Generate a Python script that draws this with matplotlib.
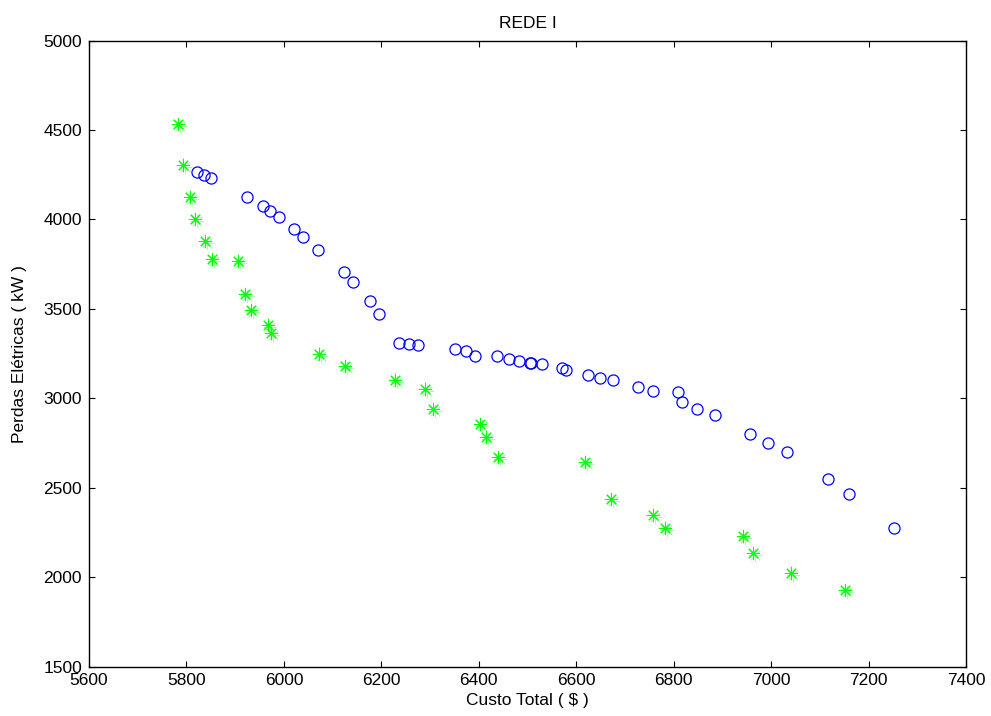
import matplotlib
matplotlib.use("Agg")
import matplotlib.pyplot as plt
from matplotlib.transforms import offset_copy

# =========================
# DATA
# =========================
custo_rede = [
    5821, 5836, 5851, 5924, 5957, 5972, 5990, 6020, 6039, 6071,
    6123, 6141, 6176, 6195, 6237, 6256, 6275, 6352, 6374, 6392,
    6437, 6461, 6483, 6506, 6508, 6530, 6571, 6578, 6625, 6649,
    6675, 6727, 6757, 6808, 6818, 6847, 6884, 6957, 6993, 7032,
    7116, 7159, 7252
]
perdas_rede = [
    4265, 4248, 4233, 4128, 4076, 4047, 4016, 3944, 3904, 3830,
    3704, 3651, 3546, 3473, 3307, 3301, 3300, 3273, 3264, 3234,
    3235, 3220, 3210, 3197, 3195, 3190, 3167, 3160, 3130, 3115,
    3100, 3063, 3041, 3034, 2980, 2942, 2906, 2801, 2749, 2697,
    2549, 2465, 2272
]

custo_pareto = [
    5782, 5793, 5808, 5817, 5838, 5853, 5906, 5921, 5933, 5968,
    5974, 6072, 6126, 6228, 6290, 6307, 6403, 6415, 6440, 6618,
    6672, 6757, 6782, 6942, 6962, 7041, 7151
]
perdas_pareto = [
    4535, 4306, 4127, 4002, 3880, 3781, 3767, 3582, 3494, 3411,
    3367, 3246, 3180, 3103, 3052, 2941, 2854, 2784, 2672, 2641,
    2437, 2346, 2275, 2230, 2135, 2023, 1926
]

x_ticks = [5600, 5800, 6000, 6200, 6400, 6600, 6800, 7000, 7200, 7400]
y_ticks = [1500, 2000, 2500, 3000, 3500, 4000, 4500, 5000]

# =========================
# FIGURE
# =========================
plt.rcParams['font.family'] = ['Liberation Sans', 'DejaVu Sans']

fig = plt.figure(figsize=(9.91, 7.16), dpi=100)
ax = fig.add_axes([0.0898, 0.0691, 0.885, 0.8741])

# asterisk markers with a faint offset shadow
asterisk = (8, 2, 0)
shadow = offset_copy(ax.transData, fig=fig, x=2, y=-2, units='dots')
ax.plot(
    custo_pareto, perdas_pareto,
    linestyle='none', marker=asterisk, markersize=9.5,
    markeredgewidth=0.7, color='#00ff00', alpha=0.35,
    transform=shadow
)
ax.plot(
    custo_pareto, perdas_pareto,
    linestyle='none', marker=asterisk, markersize=9.5,
    markeredgewidth=0.75, color='#00ff00'
)

ax.plot(
    custo_rede, perdas_rede,
    linestyle='none', marker='o', markersize=8,
    markerfacecolor='none', markeredgecolor='#0000ff',
    markeredgewidth=0.9
)

# =========================
# AXES
# =========================
ax.set_xlim(5600, 7400)
ax.set_ylim(1500, 5000)
ax.set_xticks(x_ticks)
ax.set_yticks(y_ticks)

ax.tick_params(
    direction='in', length=4, width=0.8,
    top=True, right=True, labelsize=12.5, pad=5
)
for spine in ax.spines.values():
    spine.set_linewidth(1.0)

ax.set_xlabel("Custo Total ( $ )", fontsize=12.5)
ax.set_ylabel("Perdas Elétricas ( kW )", fontsize=12.5)
ax.xaxis.set_label_coords(0.5, -0.043)
ax.yaxis.set_label_coords(-0.071, 0.5)

ax.set_title("REDE I", fontsize=12.5, y=1.02, pad=0)

fig.savefig("out.png", dpi=100)
